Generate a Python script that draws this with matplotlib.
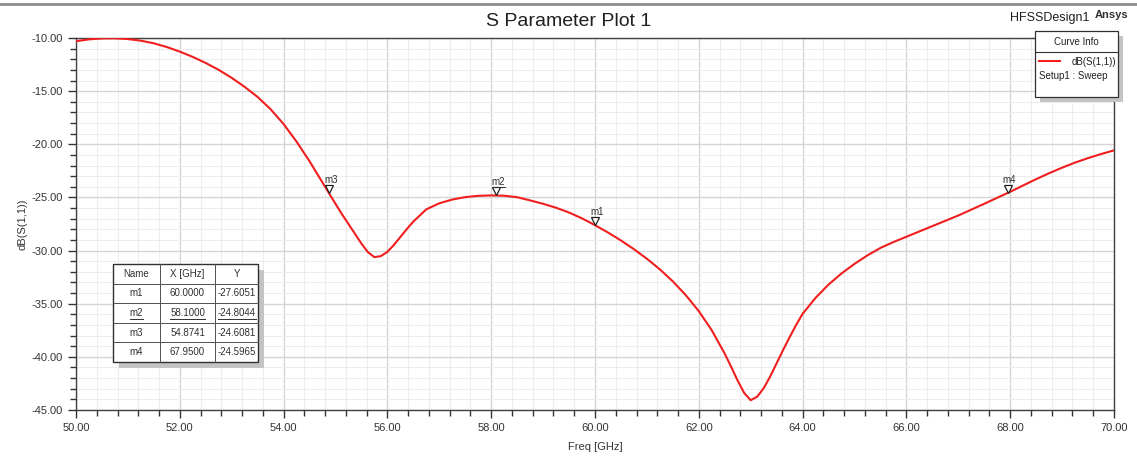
import matplotlib
matplotlib.use("Agg")
from matplotlib import pyplot as plt
from matplotlib import transforms
from matplotlib.patches import Rectangle
from matplotlib.lines import Line2D
from matplotlib.ticker import MultipleLocator, FormatStrFormatter

plt.rcParams["font.family"] = ["Liberation Sans", "DejaVu Sans"]

# swept frequency points [GHz] and return loss dB(S(1,1))
freq = [50.00, 50.25, 50.50, 50.75, 51.00, 51.25, 51.50, 51.75, 52.00, 52.25,
        52.50, 52.75, 53.00, 53.25, 53.50, 53.75, 54.00, 54.25, 54.50, 54.75,
        54.875, 55.00, 55.125, 55.25, 55.375, 55.50, 55.625, 55.75, 55.875, 56.00,
        56.125, 56.25, 56.375, 56.50, 56.75, 57.00, 57.25, 57.50, 57.75, 58.00,
        58.25, 58.50, 58.75, 59.00, 59.25, 59.50, 59.75, 60.00, 60.25, 60.50,
        60.75, 61.00, 61.25, 61.50, 61.75, 62.00, 62.25, 62.50, 62.625, 62.75,
        62.875, 63.00, 63.125, 63.25, 63.375, 63.50, 63.625, 63.75, 63.875, 64.00,
        64.25, 64.50, 64.75, 65.00, 65.25, 65.50, 65.75, 66.00, 66.25, 66.50,
        66.75, 67.00, 67.25, 67.50, 67.75, 68.00, 68.25, 68.50, 68.75, 69.00,
        69.25, 69.50, 69.75, 70.00]
s11 = [-10.30, -10.13, -10.04, -10.03, -10.10, -10.25, -10.50, -10.85, -11.28, -11.78,
       -12.35, -13.00, -13.75, -14.60, -15.55, -16.70, -18.10, -19.75, -21.60, -23.60,
       -24.61, -25.60, -26.58, -27.50, -28.42, -29.35, -30.15, -30.62, -30.52, -30.12,
       -29.47, -28.72, -27.97, -27.27, -26.12, -25.55, -25.20, -24.97, -24.85, -24.81,
       -24.84, -24.98, -25.28, -25.60, -25.97, -26.42, -26.97, -27.61, -28.30, -29.05,
       -29.87, -30.77, -31.77, -32.90, -34.20, -35.70, -37.50, -39.70, -40.95, -42.25,
       -43.40, -44.08, -43.75, -42.95, -41.85, -40.60, -39.35, -38.15, -37.00, -35.95,
       -34.45, -33.20, -32.15, -31.25, -30.45, -29.75, -29.20, -28.70, -28.20, -27.70,
       -27.20, -26.70, -26.15, -25.60, -25.03, -24.47, -23.87, -23.28, -22.72, -22.20,
       -21.72, -21.30, -20.92, -20.57]

# markers
mk_name = ["m1", "m2", "m3", "m4"]
mk_x = [60.0000, 58.1000, 54.8741, 67.9500]
mk_y = [-27.6051, -24.8044, -24.6081, -24.5965]
active = "m2"

W, H = 1137, 458
fig = plt.figure(figsize=(W / 100, H / 100), dpi=100)
ax = fig.add_axes([76 / W, 1 - 410 / H, (1114 - 76) / W, (410 - 38) / H])


def fx(px):
    return px / W


def fy(py):
    return 1 - py / H


ax.plot(freq, s11, color="#f01e1e", lw=1.5, zorder=3)

ax.set_xlim(50, 70)
ax.set_ylim(-45, -10)
ax.xaxis.set_major_locator(MultipleLocator(2))
ax.xaxis.set_minor_locator(MultipleLocator(0.4))
ax.yaxis.set_major_locator(MultipleLocator(5))
ax.yaxis.set_minor_locator(MultipleLocator(1))
ax.xaxis.set_major_formatter(FormatStrFormatter("%.2f"))
ax.yaxis.set_major_formatter(FormatStrFormatter("%.2f"))
ax.tick_params(which="major", length=6, width=1, labelsize=8, colors="#333333")
ax.tick_params(which="minor", length=4, width=1, colors="#333333")
ax.grid(which="major", color="#d6d6d6", lw=1.0)
ax.grid(which="minor", color="#ededed", lw=0.8)
ax.set_axisbelow(True)
for s in ax.spines.values():
    s.set_color("#404040")
    s.set_linewidth(1.0)

ax.set_xlabel("Freq [GHz]", fontsize=8, color="#333333", labelpad=6)
ax.set_ylabel("dB(S(1,1))", fontsize=8, color="#333333", labelpad=3)

underlined = []
tri = transforms.offset_copy(ax.transData, fig=fig, y=3.2, units="points")
for n, x, y in zip(mk_name, mk_x, mk_y):
    ax.plot(x, y, marker="v", ms=6.4, mfc="white", mec="#202020", mew=0.9,
            transform=tri, zorder=4, clip_on=False)
    t = ax.annotate(n, (x, y), xytext=(-3.5, 7.5), textcoords="offset points",
                    fontsize=7, color="#303030", zorder=5)
    if n == active:
        underlined.append(t)

# title and design name
fig.text(0.5, fy(21), "S Parameter Plot 1", ha="center", va="center",
         fontsize=14, color="#202020")
fig.text(fx(1010), fy(18), "HFSSDesign1", ha="left", va="center",
         fontsize=9, color="#202020")
fig.text(fx(1095), fy(15), "Ansys", ha="left", va="center",
         fontsize=8, fontweight="bold", color="#303030")
fig.add_artist(Line2D([0, 1], [fy(4), fy(4)], color="#8c8c8c", lw=2))

# curve info box
lx0, lx1, ly0, ly1 = 1035, 1118, 31, 97
fig.add_artist(Rectangle((fx(lx0 + 5), fy(ly1 + 5)), fx(lx1 - lx0), fy(ly0) - fy(ly1),
                         transform=fig.transFigure, fc="#c4c4c4", ec="none", zorder=9))
fig.add_artist(Rectangle((fx(lx0), fy(ly1)), fx(lx1 - lx0), fy(ly0) - fy(ly1),
                         transform=fig.transFigure, fc="white", ec="#303030", lw=0.9, zorder=10))
fig.add_artist(Line2D([fx(lx0), fx(lx1)], [fy(52), fy(52)], color="#303030", lw=0.8, zorder=11))
fig.text(fx((lx0 + lx1) / 2), fy(42), "Curve Info", ha="center", va="center",
         fontsize=7, color="#202020", zorder=12)
fig.add_artist(Line2D([fx(1039), fx(1060)], [fy(61), fy(61)], color="#f01e1e", lw=1.5, zorder=11))
fig.text(fx(1116), fy(62), "dB(S(1,1))", ha="right", va="center",
         fontsize=7, color="#202020", zorder=12)
fig.text(fx(1039), fy(76), "Setup1 : Sweep", ha="left", va="center",
         fontsize=7, color="#202020", zorder=12)

# marker table
cols = [112.7, 160, 215, 258.3]
ty0, ty1 = 264, 362
rh = (ty1 - ty0) / (len(mk_name) + 1)
fig.add_artist(Rectangle((fx(cols[0] + 6), fy(ty1 + 6)), fx(cols[-1] - cols[0]), fy(ty0) - fy(ty1),
                         transform=fig.transFigure, fc="#c4c4c4", ec="none", zorder=9))
fig.add_artist(Rectangle((fx(cols[0]), fy(ty1)), fx(cols[-1] - cols[0]), fy(ty0) - fy(ty1),
                         transform=fig.transFigure, fc="white", ec="#303030", lw=1.0, zorder=10))
for i in range(1, len(mk_name) + 1):
    yy = ty0 + i * rh
    fig.add_artist(Line2D([fx(cols[0]), fx(cols[-1])], [fy(yy), fy(yy)],
                          color="#505050", lw=0.7, zorder=11))
for c in cols[1:-1]:
    fig.add_artist(Line2D([fx(c), fx(c)], [fy(ty0), fy(ty1)], color="#505050", lw=0.7, zorder=11))

rows = [["Name", "X [GHz]", "Y"]]
for n, x, y in zip(mk_name, mk_x, mk_y):
    rows.append([n, f"{x:.4f}", f"{y:.4f}"])
for r, row in enumerate(rows):
    yc = ty0 + (r + 0.5) * rh
    for c, txt in enumerate(row):
        t = fig.text(fx((cols[c] + cols[c + 1]) / 2), fy(yc), txt, ha="center", va="center",
                     fontsize=7, color="#303030", zorder=12)
        if r > 0 and row[0] == active:
            underlined.append(t)

fig.canvas.draw()
r = fig.canvas.get_renderer()
for t in underlined:
    bb = t.get_window_extent(r)
    fig.add_artist(Line2D([bb.x0 / W, bb.x1 / W], [(bb.y0 - 0.5) / H] * 2,
                          color="#303030", lw=0.7, zorder=12))

fig.savefig("out.png", dpi=100)
